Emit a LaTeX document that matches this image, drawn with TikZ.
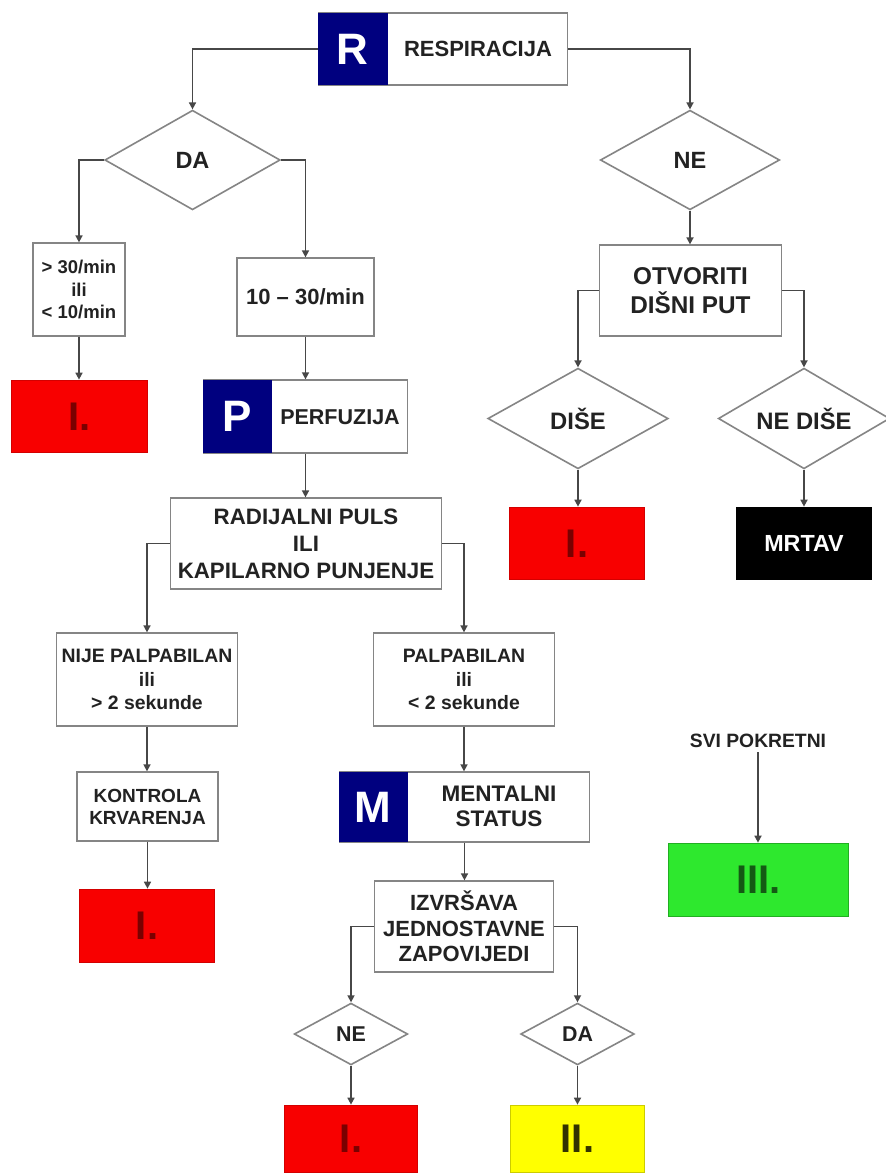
\documentclass[tikz,border=0pt]{standalone}
\usepackage{fontspec}
\setmainfont{Liberation Sans}
\usetikzlibrary{shapes.geometric,arrows.meta}
\definecolor{navyb}{HTML}{00007F}
\definecolor{bord}{HTML}{858585}
\definecolor{wire}{HTML}{474747}
\definecolor{txt}{HTML}{222222}
\definecolor{redf}{HTML}{F80000}
\definecolor{greenf}{HTML}{2EE82E}
\definecolor{yellowf}{HTML}{FFFF00}
\definecolor{redt}{HTML}{7A0000}
\definecolor{greent}{HTML}{145A14}
\definecolor{yellowt}{HTML}{333300}
\newcommand{\ftz}[2]{\fontsize{#1bp}{#2bp}\selectfont\bfseries}
\begin{document}
\begin{tikzpicture}[x=1bp,y=-1bp,
  box/.style={draw=bord, line width=1.6bp, fill=white, inner sep=0pt, align=center, text=txt},
  dia/.style={diamond, aspect=1.8, draw=bord, line width=1.6bp, fill=white, inner sep=0pt, align=center, text=txt},
  lett/.style={fill=navyb, inner sep=0pt, anchor=west, text=white, font=\ftz{44}{44}},
  cbox/.style={inner sep=0pt, line width=1bp, font=\ftz{40}{40}},
  conn/.style={draw=wire, line width=1.6bp, -{Triangle[length=7bp,width=7bp]}},
  lbl/.style={inner sep=0pt, text=txt, align=center}]
\useasboundingbox (0,0) rectangle (886,1175);
\fill[white] (0,0) rectangle (886,1175);

% R box
\node[box, minimum width=250, minimum height=72] (rbox) at (443,49) {};
\node[lett, minimum width=70, minimum height=72] (rblue) at (rbox.west) {R};
\node[lbl, font=\ftz{22}{26}] (rtext) at (478,49) {RESPIRACIJA};

% first diamonds
\node[dia, minimum width=176, minimum height=100] (da) at (192.5,160) {\ftz{23.5}{26}DA};
\node[dia, minimum width=180, minimum height=100] (ne) at (690,160) {\ftz{23.5}{26}NE};

% left branch
\node[box, minimum width=92, minimum height=93, font=\ftz{18.5}{22.5}] (b30) at (79,289.5) {> 30/min\\ili\\< 10/min};
\node[box, minimum width=137, minimum height=78, font=\ftz{22}{26}] (b1030) at (305.5,297) {10 -- 30/min};
\node[cbox, fill=redf, draw=redf!85!black, minimum width=137, minimum height=73, text=redt] (red1) at (79.5,416.5) {I.};

% P box
\node[box, minimum width=205, minimum height=73] (pbox) at (305.5,416.5) {};
\node[lett, minimum width=69, minimum height=73] (pblue) at (pbox.west) {P};
\node[lbl, font=\ftz{21.5}{24}] (ptext) at (340,417) {PERFUZIJA};

\node[box, minimum width=272, minimum height=91, font=\ftz{22.3}{27}] (rad) at (306,543.5) {RADIJALNI PULS\\ILI\\KAPILARNO PUNJENJE};
\node[box, minimum width=182, minimum height=93, font=\ftz{19.4}{23.5}] (nije) at (147,679.5) {NIJE PALPABILAN\\ili\\> 2 sekunde};
\node[box, minimum width=182, minimum height=93, font=\ftz{19.4}{23.5}] (palp) at (464,679.5) {PALPABILAN\\ili\\< 2 sekunde};
\node[box, minimum width=141, minimum height=69, font=\ftz{19}{22}] (kont) at (147.5,806.5) {KONTROLA\\KRVARENJA};
\node[cbox, fill=redf, draw=redf!85!black, minimum width=136, minimum height=74, text=redt] (red2) at (147,926) {I.};

% M box
\node[box, minimum width=251, minimum height=70] (mbox) at (464.5,807) {};
\node[lett, minimum width=69, minimum height=70] (mblue) at (mbox.west) {M};
\node[lbl, font=\ftz{22.5}{25}] (mtext) at (499,806) {MENTALNI\\STATUS};

\node[box, minimum width=180, minimum height=91, font=\ftz{22}{25.5}] (izv) at (464,926.5) {IZVRŠAVA\\JEDNOSTAVNE\\ZAPOVIJEDI};
\node[dia, minimum width=114, minimum height=62] (ne2) at (351,1034) {\ftz{21.4}{24}NE};
\node[dia, minimum width=114, minimum height=62] (da2) at (577.5,1034) {\ftz{21.4}{24}DA};
\node[cbox, fill=redf, draw=redf!85!black, minimum width=134, minimum height=68, text=redt] (red3) at (351,1139) {I.};
\node[cbox, fill=yellowf, draw=yellowf!80!black, minimum width=135, minimum height=68, text=yellowt] (yel) at (577.5,1139) {II.};

% right branch
\node[box, minimum width=183, minimum height=91, font=\ftz{24.3}{29}] (otv) at (690.5,290.5) {OTVORITI\\DIŠNI PUT};
\node[dia, minimum width=181, minimum height=101] (dise) at (578,418.5) {\ftz{23.8}{26}DIŠE};
\node[dia, minimum width=172, minimum height=101] (nedise) at (804,418.5) {\ftz{23.8}{26}NE DIŠE};
\node[cbox, fill=redf, draw=redf!85!black, minimum width=136, minimum height=73, text=redt] (red4) at (577,543.5) {I.};
\node[cbox, fill=black, minimum width=136, minimum height=73, text=white, font=\ftz{23.3}{25}] (mrtav) at (804,543.5) {MRTAV};

% green
\node[lbl, font=\ftz{19.3}{22}] (svi) at (758,741) {SVI POKRETNI};
\node[cbox, fill=greenf, draw=greenf!75!black, minimum width=181, minimum height=74, text=greent] (green) at (758.5,880) {III.};

% connectors
\draw[conn] (rbox.west) -| (da.north);
\draw[conn] (rbox.east) -| (ne.north);
\draw[conn] (da.west) -| (b30.north);
\draw[conn] (da.east) -| (b1030.north);
\draw[conn] (b30.south) -- (b30.south |- red1.north);
\draw[conn] (b1030.south) -- (b1030.south |- pbox.north);
\draw[conn] (pbox.south) -- (pbox.south |- rad.north);
\draw[conn] (rad.west) -| (nije.north);
\draw[conn] (rad.east) -| (palp.north);
\draw[conn] (nije.south) -- (nije.south |- kont.north);
\draw[conn] (kont.south) -- (kont.south |- red2.north);
\draw[conn] (palp.south) -- (palp.south |- mbox.north);
\draw[conn] (mbox.south) -- (mbox.south |- izv.north);
\draw[conn] (izv.west) -| (ne2.north);
\draw[conn] (izv.east) -| (da2.north);
\draw[conn] (ne2.south) -- (ne2.south |- red3.north);
\draw[conn] (da2.south) -- (da2.south |- yel.north);
\draw[conn] (ne.south) -- (ne.south |- otv.north);
\draw[conn] (otv.west) -| (dise.north);
\draw[conn] (otv.east) -| (nedise.north);
\draw[conn] (dise.south) -- (dise.south |- red4.north);
\draw[conn] (nedise.south) -- (nedise.south |- mrtav.north);
\coordinate (svis) at ([yshift=-4bp]svi.south);
\draw[conn] (svis) -- (svis |- green.north);
\end{tikzpicture}
\end{document}
